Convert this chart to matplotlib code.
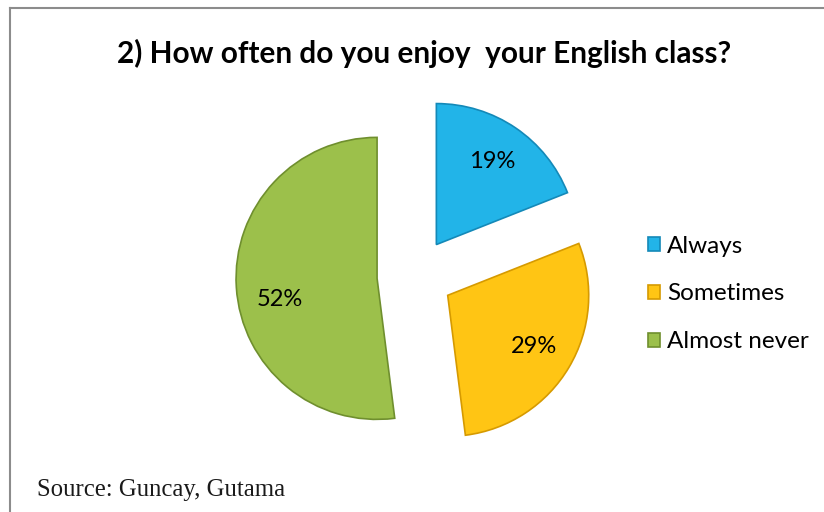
import matplotlib
matplotlib.use("Agg")
import matplotlib.pyplot as plt
from matplotlib.lines import Line2D

# data
categories = ["Always", "Sometimes", "Almost never"]
percent = [19, 29, 52]
colors = ["#22B4E8", "#FFC514", "#9CC04B"]
edges = ["#1489B8", "#D69A00", "#6F8F2E"]

fig = plt.figure(figsize=(8.24, 5.12), dpi=100)
ax = fig.add_axes([0, 0, 1, 1])

# pie in pixel units (y up)
wedges, texts, autotexts = ax.pie(
    percent, colors=colors, startangle=90, counterclock=False,
    center=(415, 236), radius=141, explode=[38, 38, 38],
    autopct="%1.0f%%", pctdistance=0.71,
    wedgeprops=dict(linewidth=1.2),
    textprops=dict(fontsize=17, family="Lato", color="black"),
    frame=True)
for w, ec in zip(wedges, edges):
    w.set_edgecolor(ec)
ax.set_xlim(0, 824)
ax.set_ylim(0, 512)
ax.set_aspect("auto")
ax.axis("off")
# Excel puts the big slice label a bit lower
x, y = autotexts[2].get_position()
autotexts[2].set_position((x + 3, y - 15))

ax.text(424, 459, "2) How often do you enjoy  your English class?",
        ha="center", va="center", fontsize=21.4, fontweight="bold",
        family="Lato")

leg = ax.legend(wedges, categories, loc="center left",
                bbox_to_anchor=(626 / 824, 218 / 512),
                bbox_transform=fig.transFigure, frameon=False,
                prop=dict(family="Lato", size=17.5), handlelength=0.5,
                handleheight=0.5, handletextpad=0.28, labelspacing=1.1)

ax.text(37, 22, "Source: Guncay, Gutama", ha="left", va="center",
        fontsize=17.8, family="Liberation Serif", color="#1a1a1a")

# chart frame (top and left edges visible)
fig.add_artist(Line2D([10 / 824, 10 / 824], [0, 504 / 512],
                      transform=fig.transFigure, color="#8c8c8c", lw=1.5))
fig.add_artist(Line2D([10 / 824, 1], [504 / 512, 504 / 512],
                      transform=fig.transFigure, color="#8c8c8c", lw=1.5))

fig.savefig("out.png", dpi=100)
